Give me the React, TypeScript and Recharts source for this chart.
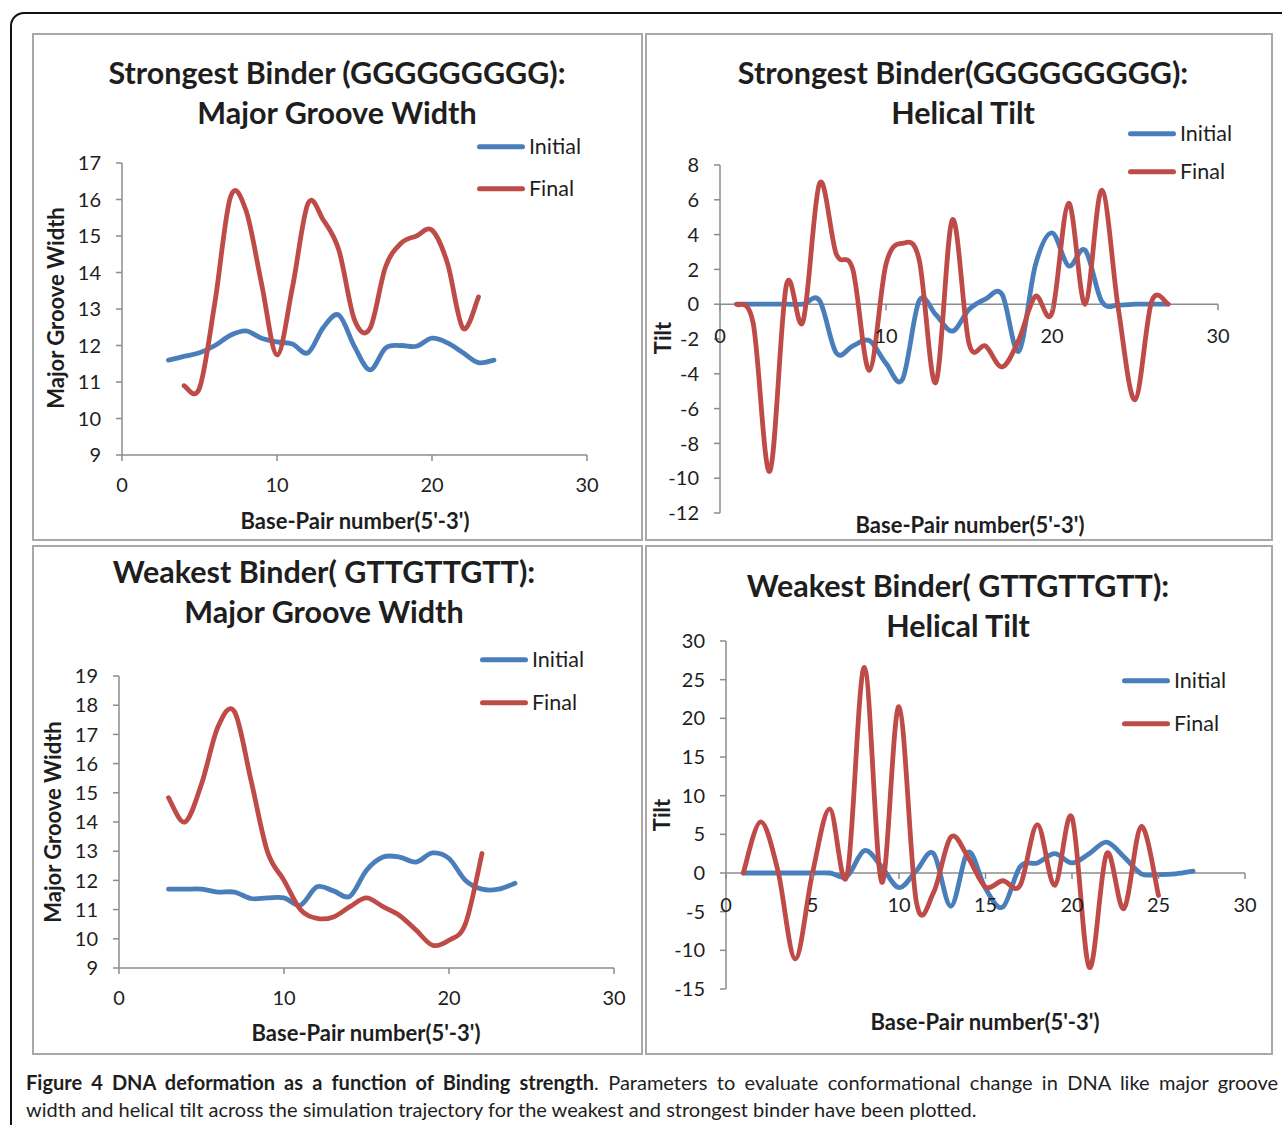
import { LineChart, Line, XAxis, YAxis, ReferenceLine, ReferenceDot } from 'recharts'

const BLUE = '#4a7ebb'
const RED = '#be4b48'
const AXIS = '#8c8c8c'
const INK = '#1e1e1e'
const FONT = 'Lato, "Open Sans", sans-serif'

// top-left: strongest binder, major groove width
const STRONG_MGW_INITIAL_X = [3, 4, 5, 6, 7, 8, 9, 10, 11, 12, 13, 14, 15, 16, 17, 18, 19, 20, 21, 22, 23, 24]
const STRONG_MGW_INITIAL = [11.6, 11.7, 11.8, 12.0, 12.28, 12.4, 12.2, 12.1, 12.04, 11.8, 12.5, 12.83, 11.97, 11.33, 11.93, 12.0, 11.98, 12.2, 12.07, 11.8, 11.53, 11.6]
const STRONG_MGW_FINAL_X = [4, 5, 6, 7, 8, 9, 10, 11, 12, 13, 14, 15, 16, 17, 18, 19, 20, 21, 22, 23]
const STRONG_MGW_FINAL = [10.9, 10.83, 13.2, 16.07, 15.7, 13.7, 11.74, 13.6, 15.89, 15.43, 14.6, 12.7, 12.47, 14.15, 14.8, 15.0, 15.16, 14.25, 12.47, 13.33]

// top-right: strongest binder, helical tilt
const STRONG_TILT_X = [1, 2, 3, 4, 5, 6, 7, 8, 9, 10, 11, 12, 13, 14, 15, 16, 17, 18, 19, 20, 21, 22, 23, 24, 25, 26, 27]
const STRONG_TILT_INITIAL = [0, 0, 0, 0, 0, 0.2, -2.8, -2.4, -2.1, -3.4, -4.3, 0.2, -0.6, -1.55, -0.3, 0.3, 0.55, -2.7, 2.25, 4.1, 2.2, 3.1, 0.15, -0.05, 0, 0, 0]
const STRONG_TILT_FINAL = [0, -1.1, -9.6, 1.1, -1.0, 6.95, 2.9, 2.0, -3.8, 2.3, 3.5, 2.55, -4.5, 4.85, -2.25, -2.4, -3.6, -2.05, 0.45, -0.5, 5.8, 0, 6.55, -0.3, -5.5, 0.15, 0]

// bottom-left: weakest binder, major groove width
const WEAK_MGW_INITIAL_X = [3, 4, 5, 6, 7, 8, 9, 10, 11, 12, 13, 14, 15, 16, 17, 18, 19, 20, 21, 22, 23, 24]
const WEAK_MGW_INITIAL = [11.7, 11.7, 11.7, 11.6, 11.6, 11.38, 11.4, 11.4, 11.15, 11.78, 11.64, 11.46, 12.35, 12.8, 12.8, 12.63, 12.94, 12.75, 12.0, 11.7, 11.7, 11.9]
const WEAK_MGW_FINAL_X = [3, 4, 5, 6, 7, 8, 9, 10, 11, 12, 13, 14, 15, 16, 17, 18, 19, 20, 21, 22]
const WEAK_MGW_FINAL = [14.83, 14.0, 15.3, 17.26, 17.78, 15.43, 12.98, 12.0, 11.0, 10.7, 10.75, 11.1, 11.4, 11.1, 10.8, 10.3, 9.78, 9.95, 10.52, 12.92]

// bottom-right: weakest binder, helical tilt
const WEAK_TILT_INITIAL_X = [1, 2, 3, 4, 5, 6, 7, 8, 9, 10, 11, 12, 13, 14, 15, 16, 17, 18, 19, 20, 21, 22, 23, 24, 25, 26, 27]
const WEAK_TILT_INITIAL = [0, 0, 0, 0, 0, 0, -0.4, 2.9, 0.8, -1.9, 0.3, 2.5, -4.3, 2.7, -2.0, -4.4, 0.8, 1.3, 2.5, 1.3, 2.5, 4.0, 2.1, -0.1, -0.2, -0.1, 0.25]
const WEAK_TILT_FINAL_X = [1, 2, 3, 4, 5, 6, 7, 8, 9, 10, 11, 12, 13, 14, 15, 16, 17, 18, 19, 20, 21, 22, 23, 24, 25]
const WEAK_TILT_FINAL = [0, 6.6, 0.3, -11.1, 0, 8.3, -0.3, 26.6, -1.2, 21.5, -3.7, -2.5, 4.65, 2.0, -1.8, -1.0, -1.6, 6.25, -1.6, 7.2, -12.2, 2.5, -4.6, 6.0, -2.9]

const X_TICKS_10 = [0, 10, 20, 30]
const X_TICKS_5 = [0, 5, 10, 15, 20, 25, 30]
const STRONG_MGW_Y_TICKS = [9, 10, 11, 12, 13, 14, 15, 16, 17]
const STRONG_TILT_Y_TICKS = [-12, -10, -8, -6, -4, -2, 0, 2, 4, 6, 8]
const WEAK_MGW_Y_TICKS = [9, 10, 11, 12, 13, 14, 15, 16, 17, 18, 19]
const WEAK_TILT_Y_TICKS = [-15, -10, -5, 0, 5, 10, 15, 20, 25, 30]

const SERIES_NAMES = ['Initial', 'Final']
const X_TITLE = "Base-Pair number(5'-3')"

// Excel-like smoothed line (Catmull-Rom as cubic beziers)
function excelSmooth(context: any) {
  let pts: number[][] = []
  return {
    areaStart() {},
    areaEnd() {},
    lineStart() { pts = [] },
    point(x: number, y: number) { pts.push([+x, +y]) },
    lineEnd() {
      if (!pts.length) return
      context.moveTo(pts[0][0], pts[0][1])
      const k = 1 / 6
      for (let i = 0; i < pts.length - 1; i++) {
        const p0 = pts[i - 1] || pts[i]
        const p1 = pts[i]
        const p2 = pts[i + 1]
        const p3 = pts[i + 2] || p2
        context.bezierCurveTo(
          p1[0] + (p2[0] - p0[0]) * k, p1[1] + (p2[1] - p0[1]) * k,
          p2[0] - (p3[0] - p1[0]) * k, p2[1] - (p3[1] - p1[1]) * k,
          p2[0], p2[1],
        )
      }
    },
  }
}

const toPoints = (xs: number[], ys: number[]) => xs.map((x, i) => ({ x, y: ys[i] }))

function Txt({ x, y, size, bold, children, rotate }: any) {
  return (
    <div style={{
      position: 'absolute', left: x, top: y, whiteSpace: 'nowrap', fontFamily: FONT,
      fontSize: size, fontWeight: bold ? 700 : 400, color: INK, lineHeight: 1,
      transform: `translate(-50%, -50%)${rotate ? ` rotate(${rotate}deg)` : ''}`,
    }}>{children}</div>
  )
}

function ZeroTick({ cx, cy, label }: any) {
  return (
    <g>
      <line x1={cx} y1={cy} x2={cx} y2={cy + 6} stroke={AXIS} strokeWidth={1.5} />
      <text x={cx} y={cy + 31} textAnchor="middle" dominantBaseline="central" fontSize={20} fill={INK} fontFamily={FONT}>{label}</text>
    </g>
  )
}

function Legend({ x, y, gap, colors }: any) {
  return (
    <>
      {SERIES_NAMES.map((name, i) => (
        <div key={name} style={{ position: 'absolute', left: x, top: y + i * gap, display: 'flex', alignItems: 'center', transform: 'translateY(-50%)' }}>
          <div style={{ width: 48, height: 5, borderRadius: 3, background: colors[i] }} />
          <span style={{ marginLeft: 4, fontFamily: FONT, fontSize: 21.5, color: INK, lineHeight: 1 }}>{name}</span>
        </div>
      ))}
    </>
  )
}

function Panel({ p }: any) {
  const { box, plot, yDomain, yTicks, xTicks, zeroAxis, series } = p
  const xAxisH = zeroAxis ? 0 : 40
  const margin = {
    top: plot.top - box.top,
    right: box.left + box.width - plot.right,
    bottom: box.top + box.height - plot.bottom - xAxisH,
    left: 0,
  }
  return (
    <>
      <div style={{ position: 'absolute', left: box.left, top: box.top, width: box.width, height: box.height, border: '2px solid #a8a8a8', boxSizing: 'border-box' }} />
      <div style={{ position: 'absolute', left: box.left, top: box.top }}>
        <LineChart width={box.width} height={box.height} margin={margin}>
          <XAxis
            type="number" dataKey="x" domain={[0, 30]} ticks={xTicks} hide={zeroAxis} height={xAxisH}
            stroke={AXIS} strokeWidth={1.5} tickSize={6} tickMargin={17}
            tick={{ fontSize: 20, fill: INK, fontFamily: FONT }}
          />
          <YAxis
            type="number" domain={yDomain} ticks={yTicks} width={plot.left - box.left} interval={0}
            stroke={AXIS} strokeWidth={1.5} tickSize={6} tickMargin={15}
            tick={{ fontSize: 20, fill: INK, fontFamily: FONT }}
          />
          {zeroAxis && <ReferenceLine y={0} stroke={AXIS} strokeWidth={1.5} />}
          {zeroAxis && xTicks.map((t: number) => (
            <ReferenceDot key={t} x={t} y={0} r={0} shape={(s: any) => <ZeroTick cx={s.cx} cy={s.cy} label={t} />} />
          ))}
          {series.map((s: any) => (
            <Line
              key={s.name} name={s.name} data={toPoints(s.x, s.y)} dataKey="y" type={excelSmooth as any}
              stroke={s.color} strokeWidth={4.8} strokeLinecap="round" strokeLinejoin="round"
              dot={false} activeDot={false} isAnimationActive={false}
            />
          ))}
        </LineChart>
      </div>
      <Txt x={p.title.x} y={p.title.y} size={30.5} bold>{p.title.lines[0]}</Txt>
      <Txt x={p.title.x} y={p.title.y + 40} size={30.5} bold>{p.title.lines[1]}</Txt>
      <Txt x={p.yTitle.x} y={p.yTitle.y} size={22} bold rotate={-90}>{p.yTitle.text}</Txt>
      <Txt x={p.xTitle.x} y={p.xTitle.y} size={22} bold>{X_TITLE}</Txt>
      <Legend x={p.legend.x} y={p.legend.y} gap={p.legend.gap} colors={[BLUE, RED]} />
    </>
  )
}

const PANELS = [
  {
    box: { left: 32, top: 33, width: 611, height: 508 },
    plot: { left: 122, right: 587, top: 163, bottom: 455 },
    yDomain: [9, 17], yTicks: STRONG_MGW_Y_TICKS, xTicks: X_TICKS_10, zeroAxis: false,
    series: [
      { name: 'Initial', color: BLUE, x: STRONG_MGW_INITIAL_X, y: STRONG_MGW_INITIAL },
      { name: 'Final', color: RED, x: STRONG_MGW_FINAL_X, y: STRONG_MGW_FINAL },
    ],
    title: { x: 337, y: 72, lines: ['Strongest Binder (GGGGGGGGG):', 'Major Groove Width'] },
    yTitle: { x: 56, y: 308, text: 'Major Groove Width' },
    xTitle: { x: 355, y: 521 },
    legend: { x: 477, y: 147, gap: 42 },
  },
  {
    box: { left: 645, top: 33, width: 628, height: 508 },
    plot: { left: 720, right: 1218, top: 165, bottom: 513 },
    yDomain: [-12, 8], yTicks: STRONG_TILT_Y_TICKS, xTicks: X_TICKS_10, zeroAxis: true,
    series: [
      { name: 'Initial', color: BLUE, x: STRONG_TILT_X, y: STRONG_TILT_INITIAL },
      { name: 'Final', color: RED, x: STRONG_TILT_X, y: STRONG_TILT_FINAL },
    ],
    title: { x: 963, y: 72, lines: ['Strongest Binder(GGGGGGGGG):', 'Helical Tilt'] },
    yTitle: { x: 663, y: 338, text: 'Tilt' },
    xTitle: { x: 970, y: 525 },
    legend: { x: 1128, y: 134, gap: 38 },
  },
  {
    box: { left: 32, top: 545, width: 611, height: 510 },
    plot: { left: 119, right: 614, top: 676, bottom: 968 },
    yDomain: [9, 19], yTicks: WEAK_MGW_Y_TICKS, xTicks: X_TICKS_10, zeroAxis: false,
    series: [
      { name: 'Initial', color: BLUE, x: WEAK_MGW_INITIAL_X, y: WEAK_MGW_INITIAL },
      { name: 'Final', color: RED, x: WEAK_MGW_FINAL_X, y: WEAK_MGW_FINAL },
    ],
    title: { x: 324, y: 571, lines: ['Weakest Binder( GTTGTTGTT):', 'Major Groove Width'] },
    yTitle: { x: 53, y: 822, text: 'Major Groove Width' },
    xTitle: { x: 366, y: 1033 },
    legend: { x: 480, y: 660, gap: 43 },
  },
  {
    box: { left: 645, top: 545, width: 628, height: 510 },
    plot: { left: 726, right: 1245, top: 641, bottom: 989 },
    yDomain: [-15, 30], yTicks: WEAK_TILT_Y_TICKS, xTicks: X_TICKS_5, zeroAxis: true,
    series: [
      { name: 'Initial', color: BLUE, x: WEAK_TILT_INITIAL_X, y: WEAK_TILT_INITIAL },
      { name: 'Final', color: RED, x: WEAK_TILT_FINAL_X, y: WEAK_TILT_FINAL },
    ],
    title: { x: 958, y: 585, lines: ['Weakest Binder( GTTGTTGTT):', 'Helical Tilt'] },
    yTitle: { x: 662, y: 815, text: 'Tilt' },
    xTitle: { x: 985, y: 1022 },
    legend: { x: 1122, y: 681, gap: 43 },
  },
]

export default function App() {
  return (
    <div style={{ position: 'relative', width: 1282, height: 1125, overflow: 'hidden', background: '#fff' }}>
      <style>{'body{margin:0}'}</style>
      <div style={{ position: 'absolute', left: 10, top: 12, width: 1320, height: 1200, border: '2px solid #111', borderRadius: 14, boxSizing: 'border-box' }} />
      {PANELS.map((p, i) => <Panel key={i} p={p} />)}
      <div style={{ position: 'absolute', left: 26, top: 1069, width: 1252, fontFamily: FONT, fontSize: 20, color: INK, lineHeight: '27px' }}>
        <div style={{ textAlign: 'justify', textAlignLast: 'justify' }}>
          <b>Figure 4 DNA deformation as a function of Binding strength</b>. Parameters to evaluate conformational change in DNA like major groove
        </div>
        <div>width and helical tilt across the simulation trajectory for the weakest and strongest binder have been plotted.</div>
      </div>
    </div>
  )
}
